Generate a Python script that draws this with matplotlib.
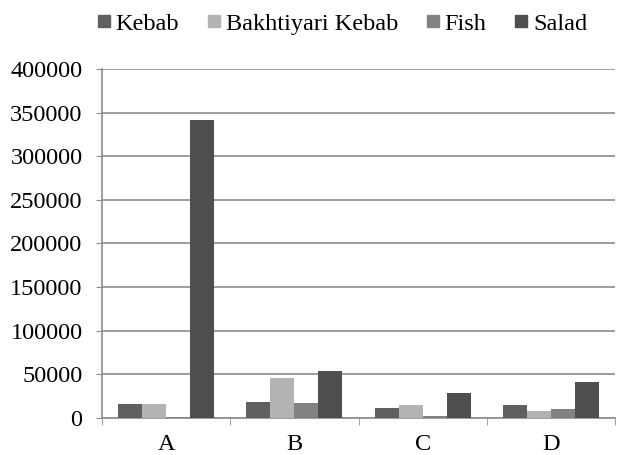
import numpy as np
import matplotlib
matplotlib.use("Agg")
import matplotlib.pyplot as plt
from matplotlib.lines import Line2D

categories = ["A", "B", "C", "D"]
series = ["Kebab", "Bakhtiyari Kebab", "Fish", "Salad"]
kebab = [16000, 18000, 11000, 15300]
bakhtiyari = [16000, 45500, 14500, 7600]
fish = [1000, 17500, 2300, 10300]
salad = [341000, 53500, 28600, 41600]
values = [kebab, bakhtiyari, fish, salad]
colors = ["#606060", "#b3b3b3", "#828282", "#4f4f4f"]
GRIDC = "#8c8c8c"

plt.rcParams.update({"font.family": "Liberation Serif", "font.size": 17.5})

fig = plt.figure(figsize=(6.38, 4.55), dpi=100)
ax = fig.add_axes([102 / 638, 1 - 418 / 455, 513 / 638, 349 / 455])

x = np.arange(len(categories))
w = 0.1875
for i, (name, vals, c) in enumerate(zip(series, values, colors)):
    ax.bar(x + (i - 1.5) * w, vals, width=w, color=c, label=name, zorder=3)

ax.set_xlim(-0.5, len(categories) - 0.5)
ax.set_ylim(0, 400000)
ax.set_yticks(range(0, 400001, 50000))
ax.set_xticks(x)
ax.set_xticklabels(categories)
ax.set_xticks(np.arange(-0.5, len(categories) + 0.5, 1), minor=True)
ax.tick_params(axis="x", which="major", length=0, pad=11.5)
ax.tick_params(axis="x", which="minor", length=5, color=GRIDC, direction="out")
ax.tick_params(axis="y", length=4, color=GRIDC, direction="out", pad=10)
ax.yaxis.grid(True, color=GRIDC, linewidth=1.2, zorder=0)
for s in ["top", "right"]:
    ax.spines[s].set_visible(False)
for s in ["left", "bottom"]:
    ax.spines[s].set_color(GRIDC)
    ax.spines[s].set_linewidth(1.2)

handles = [Line2D([], [], marker="s", linestyle="none", markersize=8.5,
                  markerfacecolor=c, markeredgecolor=c) for c in colors]
fig.legend(handles, series, loc="center", bbox_to_anchor=(0.532, 0.948),
           ncol=4, frameon=False, handletextpad=0.0, columnspacing=0.92,
           handlelength=1.0, fontsize=17.5, borderaxespad=0, borderpad=0)

fig.savefig("out.png", dpi=100)
